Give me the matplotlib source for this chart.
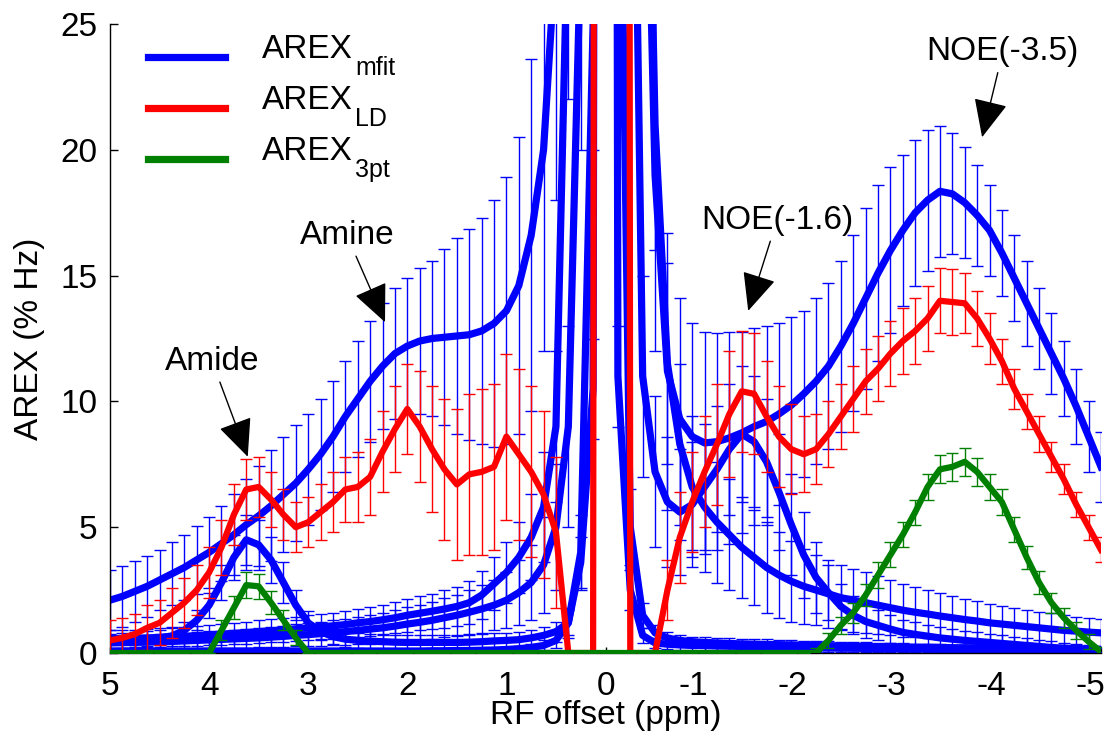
import numpy as np
import matplotlib
matplotlib.use('Agg')
import matplotlib.pyplot as plt
import matplotlib.transforms as mtrans
from matplotlib.lines import Line2D

plt.rcParams['font.family'] = ['Liberation Sans', 'DejaVu Sans']
plt.rcParams['axes.unicode_minus'] = False

# RF offsets (ppm), 5 -> -5 in 0.125 ppm steps
offsets = np.linspace(5, -5, 81)

# ---------------- AREX_mfit (blue) ----------------
mfit_total = [2.1, 2.25, 2.45, 2.65, 2.9, 3.15, 3.4, 3.7,
              4.0, 4.35, 4.7, 5.1, 5.45, 5.85, 6.3, 6.75,
              7.3, 7.9, 8.6, 9.4, 10.1, 10.8, 11.4, 11.9,
              12.2, 12.4, 12.5, 12.55, 12.6, 12.65, 12.8, 13.1,
              13.6, 14.6, 16.6, 20.0, 28.0, 60.0, 100.0, 150.0,
              200.0, 150.0, 100.0, 40.0, 19.0, 11.2, 9.3, 8.6,
              8.35, 8.4, 8.55, 8.75, 9.0, 9.2, 9.5, 9.85,
              10.3, 10.8, 11.4, 12.2, 13.1, 14.1, 15.1, 16.0,
              16.8, 17.5, 18.0, 18.35, 18.25, 17.9, 17.4, 16.8,
              15.9, 14.9, 13.9, 12.9, 11.9, 10.9, 9.8, 8.6,
              7.4]
mfit_total_err = [1.2, 1.2, 1.2, 1.2, 1.2, 1.25, 1.3, 1.35,
                  1.4, 1.5, 1.6, 1.8, 2.0, 2.2, 2.3, 2.3,
                  2.2, 2.2, 2.2, 2.2, 2.3, 2.4, 2.5, 2.6,
                  2.7, 2.9, 3.1, 3.5, 3.9, 4.2, 4.5, 4.9,
                  5.3, 5.9, 7.0, 8.0, 10.0, 12.0, 15.0, 20.0,
                  25.0, 20.0, 15.0, 10.0, 7.0, 5.5, 4.8, 4.5,
                  4.4, 4.3, 4.2, 4.0, 3.9, 3.8, 3.6, 3.5,
                  3.3, 3.3, 3.3, 3.4, 3.5, 3.6, 3.5, 3.3,
                  3.0, 2.9, 2.8, 2.6, 2.4, 2.2, 2.0, 1.8,
                  1.7, 1.7, 1.7, 1.6, 1.6, 1.5, 1.5, 1.4,
                  1.4]

mfit_amide = [0.45, 0.5, 0.52, 0.56, 0.6, 0.68, 0.9, 1.3,
              1.9, 2.8, 3.8, 4.5, 4.3, 3.7, 2.8, 1.9,
              1.2, 0.85, 0.65, 0.55, 0.5, 0.47, 0.45, 0.43,
              0.42, 0.42, 0.42, 0.42, 0.42, 0.43, 0.45, 0.48,
              0.5, 0.53, 0.6, 0.7, 0.85, 1.2, 3.6, 10.5,
              300.0, 11.0, 2.5, 0.7, 0.4, 0.35, 0.32, 0.3,
              0.3, 0.28, 0.27, 0.26, 0.25, 0.24, 0.23, 0.22,
              0.21, 0.2, 0.2, 0.19, 0.19, 0.18, 0.18, 0.17,
              0.17, 0.16, 0.16, 0.15, 0.15, 0.14, 0.14, 0.13,
              0.13, 0.12, 0.12, 0.11, 0.11, 0.1, 0.1, 0.1,
              0.1]
mfit_amide_err = [0.3, 0.3, 0.3, 0.3, 0.3, 0.3, 0.35, 0.4,
                  0.5, 0.7, 0.9, 1.0, 1.0, 0.9, 0.8, 0.6,
                  0.45, 0.35, 0.3, 0.3, 0.3, 0.3, 0.3, 0.3,
                  0.3, 0.3, 0.3, 0.3, 0.3, 0.3, 0.3, 0.3,
                  0.3, 0.3, 0.3, 0.35, 0.4, 0.5, 1.0, 2.0,
                  20.0, 2.0, 0.8, 0.3, 0.2, 0.2, 0.2, 0.2,
                  0.2, 0.2, 0.2, 0.2, 0.2, 0.2, 0.2, 0.2,
                  0.2, 0.18, 0.18, 0.17, 0.16, 0.15, 0.15, 0.14,
                  0.14, 0.13, 0.13, 0.12, 0.12, 0.12, 0.11, 0.11,
                  0.1, 0.1, 0.1, 0.1, 0.1, 0.1, 0.1, 0.1,
                  0.1]

mfit_amine = [0.55, 0.56, 0.58, 0.6, 0.62, 0.64, 0.66, 0.69,
              0.72, 0.75, 0.78, 0.81, 0.85, 0.88, 0.92, 0.96,
              1.0, 1.04, 1.08, 1.13, 1.2, 1.25, 1.32, 1.4,
              1.5, 1.58, 1.66, 1.75, 1.85, 2.0, 2.3, 2.75,
              3.2, 3.8, 4.6, 5.8, 9.0, 30.0, 80.0, 150.0,
              200.0, 40.0, 5.0, 1.5, 0.8, 0.6, 0.5, 0.45,
              0.42, 0.4, 0.38, 0.36, 0.35, 0.34, 0.33, 0.32,
              0.31, 0.3, 0.29, 0.28, 0.27, 0.26, 0.25, 0.25,
              0.24, 0.23, 0.23, 0.22, 0.21, 0.21, 0.2, 0.2,
              0.19, 0.19, 0.18, 0.18, 0.17, 0.17, 0.16, 0.16,
              0.15]
mfit_amine_err = [0.35, 0.35, 0.35, 0.36, 0.37, 0.38, 0.39, 0.4,
                  0.41, 0.42, 0.43, 0.44, 0.45, 0.46, 0.47, 0.48,
                  0.5, 0.5, 0.52, 0.54, 0.56, 0.58, 0.6, 0.62,
                  0.65, 0.68, 0.7, 0.74, 0.78, 0.85, 0.95, 1.05,
                  1.2, 1.4, 1.7, 2.2, 3.0, 8.0, 20.0, 40.0,
                  50.0, 10.0, 1.5, 0.5, 0.3, 0.25, 0.2, 0.2,
                  0.2, 0.2, 0.2, 0.2, 0.2, 0.2, 0.2, 0.2,
                  0.18, 0.18, 0.17, 0.17, 0.16, 0.16, 0.15, 0.15,
                  0.14, 0.14, 0.13, 0.13, 0.12, 0.12, 0.12, 0.11,
                  0.11, 0.11, 0.1, 0.1, 0.1, 0.1, 0.1, 0.1,
                  0.1]

mfit_mt = [0.4, 0.41, 0.42, 0.43, 0.45, 0.46, 0.48, 0.5,
           0.52, 0.54, 0.56, 0.58, 0.6, 0.63, 0.66, 0.7,
           0.73, 0.77, 0.8, 0.85, 0.9, 0.95, 1.0, 1.07,
           1.15, 1.22, 1.3, 1.4, 1.5, 1.62, 1.75, 1.9,
           2.1, 2.4, 2.8, 3.5, 5.0, 9.0, 28.0, 100.0,
           250.0, 150.0, 70.0, 45.0, 21.0, 11.5, 8.3, 6.6,
           5.8, 5.2, 4.7, 4.2, 3.8, 3.4, 3.1, 2.85,
           2.65, 2.5, 2.35, 2.2, 2.1, 2.0, 1.9, 1.8,
           1.7, 1.62, 1.55, 1.47, 1.4, 1.33, 1.27, 1.2,
           1.15, 1.1, 1.05, 1.0, 0.95, 0.9, 0.87, 0.83,
           0.8]
mfit_mt_err = [0.3, 0.3, 0.3, 0.3, 0.3, 0.3, 0.32, 0.33,
               0.34, 0.35, 0.36, 0.37, 0.38, 0.4, 0.42, 0.44,
               0.46, 0.48, 0.5, 0.52, 0.55, 0.58, 0.6, 0.63,
               0.66, 0.7, 0.74, 0.78, 0.82, 0.88, 0.95, 1.0,
               1.1, 1.3, 1.5, 1.9, 2.5, 4.0, 8.0, 20.0,
               40.0, 20.0, 12.0, 8.0, 5.0, 4.0, 3.2, 2.8,
               2.6, 2.4, 2.2, 2.0, 1.9, 1.8, 1.7, 1.6,
               1.5, 1.4, 1.35, 1.3, 1.25, 1.2, 1.15, 1.1,
               1.05, 1.0, 0.95, 0.9, 0.85, 0.8, 0.78, 0.75,
               0.72, 0.7, 0.67, 0.64, 0.62, 0.6, 0.57, 0.55,
               0.55]

mfit_noe16 = [0.08, 0.08, 0.08, 0.08, 0.08, 0.08, 0.08, 0.08,
              0.08, 0.08, 0.08, 0.08, 0.08, 0.08, 0.08, 0.08,
              0.08, 0.08, 0.08, 0.08, 0.08, 0.08, 0.08, 0.08,
              0.08, 0.08, 0.09, 0.09, 0.1, 0.1, 0.11, 0.12,
              0.14, 0.17, 0.22, 0.3, 0.5, 1.2, 4.0, 25.0,
              250.0, 120.0, 45.0, 11.0, 7.2, 6.0, 5.6, 5.9,
              6.6, 7.3, 8.1, 8.7, 8.4, 7.6, 6.4, 5.1,
              3.9, 3.0, 2.4, 1.85, 1.5, 1.25, 1.1, 0.95,
              0.82, 0.74, 0.67, 0.6, 0.55, 0.5, 0.46, 0.42,
              0.38, 0.34, 0.3, 0.26, 0.22, 0.19, 0.16, 0.13,
              0.1]
mfit_noe16_err = [0.05, 0.05, 0.05, 0.05, 0.05, 0.05, 0.05, 0.05,
                  0.05, 0.05, 0.05, 0.05, 0.05, 0.05, 0.05, 0.05,
                  0.05, 0.05, 0.05, 0.05, 0.05, 0.05, 0.05, 0.05,
                  0.05, 0.05, 0.05, 0.05, 0.06, 0.06, 0.07, 0.08,
                  0.1, 0.1, 0.15, 0.2, 0.3, 0.6, 1.5, 5.0,
                  30.0, 20.0, 10.0, 4.0, 3.0, 2.6, 2.5, 2.5,
                  2.5, 2.5, 2.6, 2.7, 2.6, 2.5, 2.3, 2.0,
                  1.7, 1.4, 1.1, 0.9, 0.75, 0.65, 0.6, 0.55,
                  0.5, 0.48, 0.45, 0.42, 0.4, 0.38, 0.36, 0.34,
                  0.32, 0.3, 0.28, 0.26, 0.24, 0.22, 0.2, 0.18,
                  0.15]

# ---------------- AREX_LD (red) ----------------
ld = [0.5, 0.6, 0.75, 1.0, 1.2, 1.6, 2.0, 2.5,
      3.2, 4.2, 5.5, 6.5, 6.6, 6.1, 5.5, 5.0,
      5.2, 5.6, 6.0, 6.5, 6.6, 7.0, 8.0, 8.9,
      9.7, 9.0, 8.1, 7.3, 6.7, 7.1, 7.2, 7.4,
      8.6, 7.9, 7.2, 6.3, 4.8, 0.0, 0.0, 0.0,
      500.0, 500.0, 0.0, 0.0, 0.0, 2.5, 4.6, 6.0,
      7.2, 8.3, 9.5, 10.4, 10.3, 9.4, 8.6, 8.1,
      7.9, 8.1, 8.7, 9.4, 10.1, 10.8, 11.3, 11.9,
      12.4, 12.8, 13.3, 14.0, 13.95, 13.9, 13.3, 12.5,
      11.6, 10.5, 9.6, 8.7, 7.8, 6.9, 5.9, 5.0,
      4.1]
ld_err = [0.8, 0.8, 0.8, 0.9, 0.9, 1.0, 1.0, 1.0,
          1.0, 1.1, 1.2, 1.2, 1.2, 1.1, 1.0, 1.0,
          1.0, 1.1, 1.2, 1.3, 1.4, 1.5, 1.6, 1.7,
          1.8, 2.2, 2.5, 2.8, 3.0, 3.2, 3.3, 3.3,
          3.3, 3.4, 3.4, 3.3, 3.0, 0.0, 0.0, 0.0,
          0.0, 0.0, 0.0, 0.0, 0.0, 1.2, 1.8, 2.0,
          2.2, 2.4, 2.5, 2.4, 2.4, 2.2, 2.0, 1.8,
          1.5, 1.4, 1.3, 1.3, 1.3, 1.3, 1.3, 1.3,
          1.3, 1.3, 1.3, 1.3, 1.3, 1.2, 1.1, 1.0,
          0.9, 0.8, 0.7, 0.7, 0.6, 0.6, 0.5, 0.5,
          0.5]

# ---------------- AREX_3pt (green) ----------------
three_pt = [0.0, 0.0, 0.0, 0.0, 0.0, 0.0, 0.0, 0.0,
            0.0, 0.9, 1.8, 2.7, 2.65, 2.0, 1.3, 0.6,
            0.0, 0.0, 0.0, 0.0, 0.0, 0.0, 0.0, 0.0,
            0.0, 0.0, 0.0, 0.0, 0.0, 0.0, 0.0, 0.0,
            0.0, 0.0, 0.0, 0.0, 0.0, 0.0, 0.0, 0.0,
            0.0, 0.0, 0.0, 0.0, 0.0, 0.0, 0.0, 0.0,
            0.0, 0.0, 0.0, 0.0, 0.0, 0.0, 0.0, 0.0,
            0.0, 0.0, 0.5, 1.1, 1.6, 2.3, 3.1, 3.9,
            4.7, 5.6, 6.6, 7.3, 7.4, 7.6, 7.2, 6.6,
            6.0, 4.9, 3.8, 2.8, 2.0, 1.4, 0.9, 0.45,
            0.05]
three_pt_err = [0.0, 0.0, 0.0, 0.0, 0.0, 0.0, 0.0, 0.0,
                0.0, 0.4, 0.45, 0.5, 0.5, 0.45, 0.4, 0.3,
                0.0, 0.0, 0.0, 0.0, 0.0, 0.0, 0.0, 0.0,
                0.0, 0.0, 0.0, 0.0, 0.0, 0.0, 0.0, 0.0,
                0.0, 0.0, 0.0, 0.0, 0.0, 0.0, 0.0, 0.0,
                0.0, 0.0, 0.0, 0.0, 0.0, 0.0, 0.0, 0.0,
                0.0, 0.0, 0.0, 0.0, 0.0, 0.0, 0.0, 0.0,
                0.0, 0.2, 0.3, 0.35, 0.4, 0.45, 0.5, 0.5,
                0.5, 0.5, 0.5, 0.55, 0.55, 0.55, 0.55, 0.5,
                0.5, 0.5, 0.45, 0.45, 0.4, 0.4, 0.35, 0.3,
                0.2]

x_ticks = [5, 4, 3, 2, 1, 0, -1, -2, -3, -4, -5]
y_ticks = [0, 5, 10, 15, 20, 25]
legend_main = 'AREX'
legend_subs = ['mfit', 'LD', '3pt']

BLUE, RED, GREEN = '#0000ff', '#ff0000', '#008000'
FS = 24

fig = plt.figure(figsize=(11.11, 7.47), dpi=100)
ax = fig.add_axes([110 / 1111, 94 / 747, 991 / 1111, 629 / 747])

eb = dict(fmt='-', elinewidth=1.0, capsize=4.5, capthick=1.0)
blue_series = [(mfit_total, mfit_total_err), (mfit_amide, mfit_amide_err),
               (mfit_amine, mfit_amine_err), (mfit_mt, mfit_mt_err),
               (mfit_noe16, mfit_noe16_err)]
for vals, errs in blue_series:
    ax.errorbar(offsets, vals, yerr=errs, color=BLUE, ecolor=BLUE, lw=5.2, zorder=2, **eb)
ax.errorbar(offsets, ld, yerr=ld_err, color=RED, ecolor=RED, lw=4.5, zorder=4, **eb)
ax.errorbar(offsets, three_pt, yerr=three_pt_err, color=GREEN, ecolor=GREEN, lw=4.5, zorder=6, **eb)

ax.set_xlim(5, -5)
ax.set_ylim(0, 25)
ax.set_xticks(x_ticks)
ax.set_xticklabels([str(t) for t in x_ticks])
ax.set_yticks(y_ticks)
ax.tick_params(axis='both', direction='in', labelsize=FS, width=1)
ax.tick_params(axis='y', length=6, pad=9)
ax.tick_params(axis='x', length=4, pad=13)
for s in ['top', 'right']:
    ax.spines[s].set_visible(False)
for s in ['left', 'bottom']:
    ax.spines[s].set_linewidth(1)

# negative tick labels sit slightly left of their ticks in the reference
shift = mtrans.ScaledTranslation(-11 / 100, 0, fig.dpi_scale_trans)
for t, lbl in zip(x_ticks, ax.get_xticklabels()):
    if t < 0:
        lbl.set_transform(lbl.get_transform() + shift)

ax.set_xlabel('RF offset (ppm)', fontsize=FS)
ax.set_ylabel('AREX (% Hz)', fontsize=FS)
ax.xaxis.set_label_coords(0.5, -0.075)
ax.yaxis.set_label_coords(-0.0656, 0.5)

# legend (drawn by hand so that the subscript sits low, as in the reference)
leg_x0, leg_x1, leg_tx = 0.0383, 0.116, 0.1534
leg_line_y = [0.9475, 0.8665, 0.7854]
leg_base_y = [0.9459, 0.8649, 0.7838]
for c, sub, yl, yb in zip((BLUE, RED, GREEN), legend_subs, leg_line_y, leg_base_y):
    ax.add_line(Line2D([leg_x0, leg_x1], [yl, yl], transform=ax.transAxes,
                       color=c, lw=5.2, clip_on=False, zorder=12))
    t = ax.text(leg_tx, yb, legend_main, transform=ax.transAxes, fontsize=FS,
                va='baseline', ha='left', zorder=12)
    ax.annotate(sub, xy=(1.0, yb), xycoords=(t, ax.transAxes),
                xytext=(1.5, -12.0), textcoords='offset points',
                fontsize=18, va='baseline', ha='left', zorder=12)

arrow = dict(arrowstyle='-|>,head_length=1.0,head_width=0.45', color='black',
             lw=1.0, mutation_scale=24, shrinkA=2, shrinkB=0)
ax.annotate('Amide', xy=(3.61, 7.8), xytext=(3.97, 11.6), ha='center', va='center',
            fontsize=FS, arrowprops=arrow, zorder=10)
ax.annotate('Amine', xy=(2.225, 13.15), xytext=(2.61, 16.6), ha='center', va='center',
            fontsize=FS, arrowprops=arrow, zorder=10)
ax.annotate('NOE(-1.6)', xy=(-1.44, 13.6), xytext=(-1.73, 17.2), ha='center', va='center',
            fontsize=FS, arrowprops=arrow, zorder=10)
ax.annotate('NOE(-3.5)', xy=(-3.80, 20.5), xytext=(-4.01, 23.9), ha='center', va='center',
            fontsize=FS, arrowprops=arrow, zorder=10, annotation_clip=False)

fig.savefig('out.png', dpi=100)
